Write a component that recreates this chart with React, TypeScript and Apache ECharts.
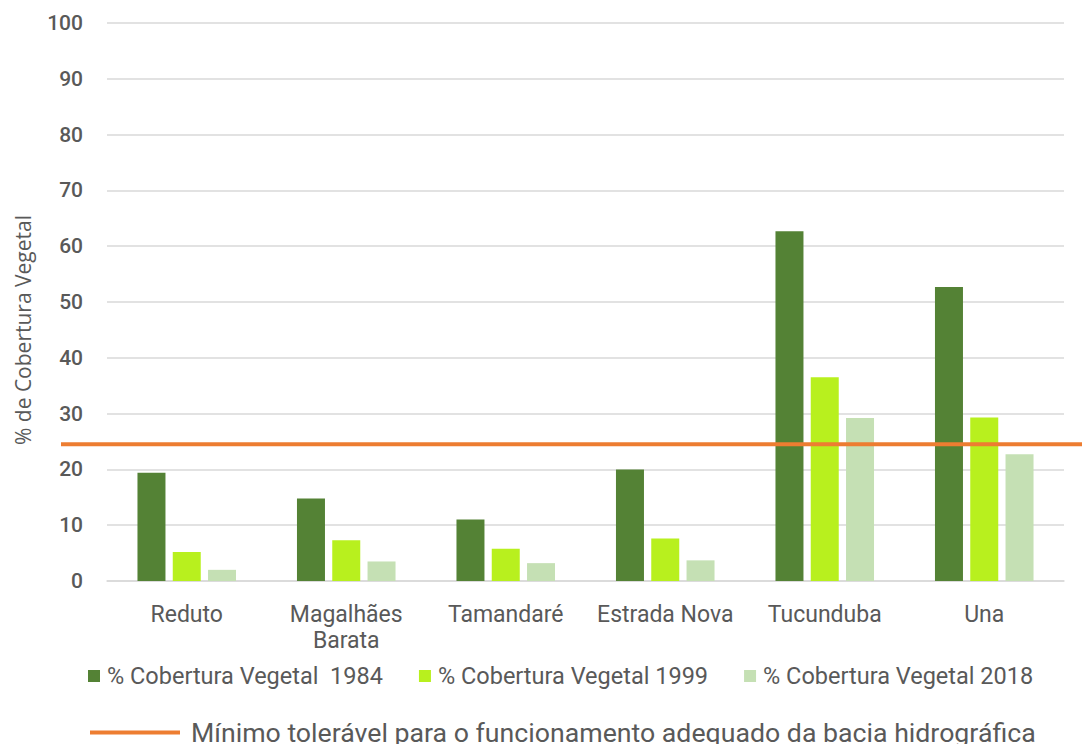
import React, { useEffect, useRef } from "react";
import * as echarts from "echarts";

const categories = ["Reduto", "Magalhães\nBarata", "Tamandaré", "Estrada Nova", "Tucunduba", "Una"];
const seriesNames = ["% Cobertura Vegetal  1984", "% Cobertura Vegetal 1999", "% Cobertura Vegetal 2018"];
const values1984 = [19.4, 14.8, 11.0, 20.0, 62.7, 52.7];
const values1999 = [5.2, 7.3, 5.8, 7.6, 36.5, 29.3];
const values2018 = [2.0, 3.5, 3.2, 3.7, 29.2, 22.7];
const thresholdName = "Mínimo tolerável para o funcionamento adequado da bacia hidrográfica";
const thresholdValue = 24.5;
const colors = ["#548235", "#B8F01E", "#C5E0B4"];

const FONT = "Roboto";
const TXT = "#595959";

export default function App() {
  const ref = useRef<HTMLDivElement>(null);
  useEffect(() => {
    if (!ref.current) return;
    const chart = echarts.init(ref.current, undefined, { renderer: "svg" });
    const barSeries = [values1984, values1999, values2018].map((d, i) => ({
      name: seriesNames[i],
      type: "bar",
      data: d,
      barWidth: 28,
      barGap: "26%",
      itemStyle: { color: colors[i] },
    }));
    chart.setOption({
      animation: false,
      backgroundColor: "#ffffff",
      grid: { left: 107, right: 18, top: 23, bottom: 163, containLabel: false },
      legend: [
        {
          data: seriesNames,
          left: 83,
          top: 659,
          itemWidth: 12,
          itemHeight: 12,
          itemGap: 36,
          icon: "rect",
          textStyle: { fontFamily: FONT, fontSize: 23.5, fontWeight: 400, color: TXT, padding: [0, 0, 0, 2] },
        },
        {
          data: [thresholdName],
          left: 85,
          top: 714,
          itemWidth: 90,
          itemHeight: 4,
          itemGap: 10,
          icon: "rect",
          textStyle: { fontFamily: FONT, fontSize: 26.7, fontWeight: 400, color: TXT, padding: [0, 0, 0, 6] },
        },
      ],
      xAxis: {
        type: "category",
        data: categories,
        axisLine: { show: true, lineStyle: { color: "#D9D9D9", width: 1.5 } },
        axisTick: { show: false },
        axisLabel: {
          fontFamily: FONT,
          fontSize: 23,
          fontWeight: 400,
          color: TXT,
          margin: 20,
          lineHeight: 26,
          interval: 0,
        },
      },
      yAxis: {
        type: "value",
        min: 0,
        max: 100,
        interval: 10,
        axisLine: { show: false },
        axisTick: { show: false },
        splitLine: { lineStyle: { color: "#D9D9D9", width: 1.5 } },
        axisLabel: { fontFamily: FONT, fontSize: 21, fontWeight: 500, color: TXT, margin: 24 },
      },
      series: [
        ...barSeries,
        {
          name: thresholdName,
          type: "line",
          data: [],
          itemStyle: { color: "#ED7D31" },
          lineStyle: { color: "#ED7D31", width: 4 },
        },
      ],
    });
    const yPix = chart.convertToPixel({ yAxisIndex: 0 }, thresholdValue) as number;
    chart.setOption({
      graphic: [
        {
          type: "line",
          shape: { x1: 61, y1: yPix, x2: 1082, y2: yPix },
          style: { stroke: "#ED7D31", lineWidth: 4 },
          z: 10,
        },
        {
          type: "text",
          x: 23,
          y: 330,
          rotation: Math.PI / 2,
          style: {
            text: "% de Cobertura Vegetal",
            fontFamily: "Open Sans",
            fontSize: 21,
            fill: TXT,
            align: "center",
            verticalAlign: "middle",
          },
        },
      ],
    });
    return () => chart.dispose();
  }, []);
  return <div ref={ref} style={{ position: "fixed", left: 0, top: 0, width: 1082, height: 744 }} />;
}
